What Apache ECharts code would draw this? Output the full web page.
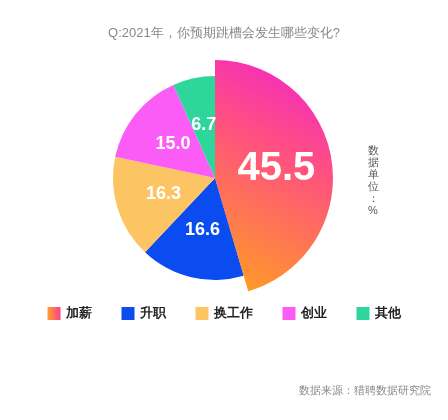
<!DOCTYPE html><html><head><meta charset="utf-8"><script src="https://cdn.jsdelivr.net/npm/echarts@6/dist/echarts.min.js"></script></head><body style="margin:0;background:#fff"><div id="c" style="width:448px;height:420px"></div><script>
var categories=['加薪','升职','换工作','创业','其他'];
var values=[45.5,16.6,16.3,15.0,6.7];
var colors=[new echarts.graphic.LinearGradient(0,1,1,0,[{offset:0,color:'#ffa020'},{offset:0.6,color:'#ff5080'},{offset:1,color:'#f020d0'}]),'#0a4cf0','#fcc463','#fa5cf5','#2fd69c'];
var legendColors=[new echarts.graphic.LinearGradient(0,0,1,0,[{offset:0,color:'#ffa02a'},{offset:1,color:'#ff3f8e'}]),'#0a4cf0','#fcc463','#fa5cf5','#2fd69c'];
var ch=echarts.init(document.getElementById('c'));
var base=categories.map(function(n,i){return {name:n,value:values[i],itemStyle:{color:colors[i]},label:{fontSize:i==0?0:18}};});
var big=categories.map(function(n,i){return {name:n,value:values[i],itemStyle:{color:i==0?colors[0]:'rgba(0,0,0,0)'},label:{show:i==0}};});
ch.setOption({
title:[{text:'Q:2021年，你预期跳槽会发生哪些变化?',left:'center',top:22,textStyle:{fontSize:13,fontWeight:'normal',color:'#888'}},
{text:'数据来源：猎聘数据研究院',right:12,top:380,textStyle:{fontSize:11,fontWeight:'normal',color:'#888'}}],
graphic:[{type:'text',left:368,top:145,style:{text:'数\n据\n单\n位\n：\n%',fontSize:11,fill:'#555',lineHeight:12}}],
legend:{top:302,left:'center',itemWidth:13,itemHeight:13,itemGap:30,icon:'rect',textStyle:{fontSize:13,fontWeight:'bold',color:'#222'},
data:categories.map(function(n,i){return {name:n,itemStyle:{color:legendColors[i]}};})},
series:[{type:'pie',center:[215,178],radius:[0,102],startAngle:90,clockwise:true,data:base,silent:true,
label:{position:'inside',color:'#fff',fontWeight:'bold',fontSize:18,formatter:function(p){return p.value.toFixed(1);}},labelLine:{show:false}},
{type:'pie',center:[215,178],radius:[0,118],startAngle:90,clockwise:true,data:big,silent:true,
label:{position:'inside',color:'#fff',fontWeight:'bold',fontSize:40,formatter:function(p){return p.value.toFixed(1);}},labelLine:{show:false}}]
});
</script></body></html>
